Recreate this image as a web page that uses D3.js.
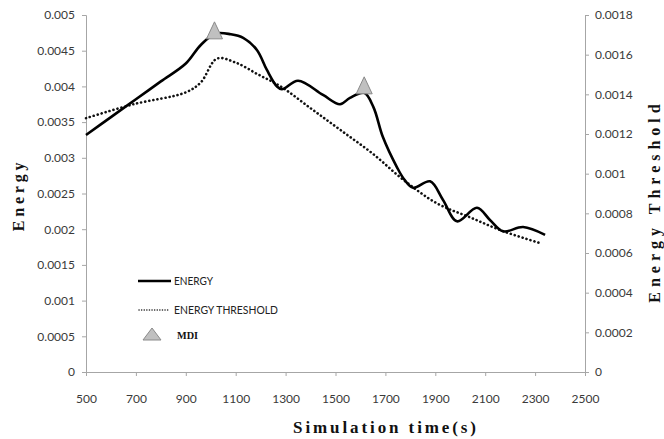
<!DOCTYPE html>
<html>
<head>
<meta charset="utf-8">
<script src="https://cdn.jsdelivr.net/npm/d3@7/dist/d3.min.js"></script>
<style>
  html, body { margin: 0; padding: 0; background: #fff; }
  svg { display: block; }
  .tick text { font-family: Lato, "Open Sans", sans-serif; font-size: 12px; fill: #3a3a3a; }
  .axis path, .axis line { stroke: #a6a6a6; stroke-width: 1; }
</style>
</head>
<body>
<svg id="chart" width="664" height="439"></svg>
<script>
// Simulation time (s) for the energy curve
const energyTime = [500, 600, 700, 800, 900, 960, 1020, 1080, 1130, 1185, 1225, 1265, 1285, 1350, 1450, 1518, 1558, 1615, 1652, 1690, 1746, 1775, 1811, 1879, 1931, 1987, 2067, 2119, 2172, 2252, 2340];
// Energy (left axis)
const energyValue = [0.00332, 0.00357, 0.00382, 0.00407, 0.00432, 0.00458, 0.00474, 0.00473, 0.00468, 0.00451, 0.00423, 0.00400, 0.00396, 0.00408, 0.00388, 0.00375, 0.00384, 0.00391, 0.00371, 0.00329, 0.00287, 0.00270, 0.00258, 0.00267, 0.00241, 0.00211, 0.00230, 0.00213, 0.00197, 0.00203, 0.00192];

// Simulation time (s) for the threshold curve
const thresholdTime = [500, 690, 900, 960, 1025, 1100, 1190, 1280, 1400, 1520, 1650, 1771, 1907, 2039, 2172, 2320];
// Energy threshold (right axis)
const thresholdValue = [0.00128, 0.00135, 0.00141, 0.00146, 0.00158, 0.00156, 0.00150, 0.00144, 0.00133, 0.00122, 0.00110, 0.00097, 0.00085, 0.00078, 0.00071, 0.00065];

// MDI detections on the energy curve
const mdiTime = [1015, 1615];
const mdiEnergy = [0.00475, 0.00398];

// Axis ticks
const xTicks = [500, 700, 900, 1100, 1300, 1500, 1700, 1900, 2100, 2300, 2500];
const leftTicks = [0, 0.0005, 0.001, 0.0015, 0.002, 0.0025, 0.003, 0.0035, 0.004, 0.0045, 0.005];
const rightTicks = [0, 0.0002, 0.0004, 0.0006, 0.0008, 0.001, 0.0012, 0.0014, 0.0016, 0.0018];

const svg = d3.select("#chart");
const plot = { left: 86, right: 585, top: 15, bottom: 372 };

const x = d3.scaleLinear().domain([500, 2500]).range([plot.left, plot.right]);
const yL = d3.scaleLinear().domain([0, 0.005]).range([plot.bottom, plot.top]);
const yR = d3.scaleLinear().domain([0, 0.0018]).range([plot.bottom, plot.top]);

const fmt = d => d === 0 ? "0" : String(+d.toFixed(4));

// Axes
svg.append("g").attr("class", "axis")
  .attr("transform", `translate(0,${plot.bottom})`)
  .call(d3.axisBottom(x).tickValues(xTicks).tickFormat(d3.format("d")).tickSizeOuter(0).tickSize(4).tickPadding(18));

svg.append("g").attr("class", "axis")
  .attr("transform", `translate(${plot.left},0)`)
  .call(d3.axisLeft(yL).tickValues(leftTicks).tickFormat(fmt).tickSizeOuter(0).tickSize(4).tickPadding(7));

svg.append("g").attr("class", "axis")
  .attr("transform", `translate(${plot.right},0)`)
  .call(d3.axisRight(yR).tickValues(rightTicks).tickFormat(fmt).tickSizeOuter(0).tickSize(4).tickPadding(6));

// Curves
const energyLine = d3.line()
  .x((d, i) => x(energyTime[i]))
  .y(d => yL(d))
  .curve(d3.curveCatmullRom.alpha(0.5));

const thresholdLine = d3.line()
  .x((d, i) => x(thresholdTime[i]))
  .y(d => yR(d))
  .curve(d3.curveCatmullRom.alpha(0.5));

svg.append("path")
  .attr("d", thresholdLine(thresholdValue))
  .attr("fill", "none")
  .attr("stroke", "#111")
  .attr("stroke-width", 2.6)
  .attr("stroke-linecap", "round")
  .attr("stroke-dasharray", "0.1 4");

svg.append("path")
  .attr("d", energyLine(energyValue))
  .attr("fill", "none")
  .attr("stroke", "#000")
  .attr("stroke-width", 2.6)
  .attr("stroke-linejoin", "round");

// MDI markers
const triangle = "M0,-11L8,6L-8,6Z";
svg.selectAll(".mdi").data(mdiTime).join("path")
  .attr("class", "mdi")
  .attr("d", triangle)
  .attr("transform", (d, i) => `translate(${x(d)},${yL(mdiEnergy[i])})`)
  .attr("fill", "#c0c0c0")
  .attr("stroke", "#8a8a8a")
  .attr("stroke-width", 1);

// Legend
const legend = svg.append("g").attr("transform", "translate(138,0)");
legend.append("line").attr("x1", 0).attr("x2", 33).attr("y1", 281).attr("y2", 281)
  .attr("stroke", "#000").attr("stroke-width", 2.4);
legend.append("text").attr("x", 36).attr("y", 281).attr("dy", "0.36em")
  .attr("font-family", "Lato, sans-serif").attr("font-size", 12).attr("fill", "#222")
  .attr("textLength", 39).attr("lengthAdjust", "spacingAndGlyphs").text("ENERGY");
legend.append("line").attr("x1", 1).attr("x2", 32).attr("y1", 310).attr("y2", 310)
  .attr("stroke", "#222").attr("stroke-width", 1.5).attr("stroke-linecap", "round").attr("stroke-dasharray", "0.1 2.5");
legend.append("text").attr("x", 36).attr("y", 310).attr("dy", "0.36em")
  .attr("font-family", "Lato, sans-serif").attr("font-size", 12).attr("fill", "#222")
  .attr("textLength", 104).attr("lengthAdjust", "spacingAndGlyphs").text("ENERGY THRESHOLD");
legend.append("path").attr("d", "M0,-7L9,5L-9,5Z").attr("transform", "translate(14,335)")
  .attr("fill", "#c0c0c0").attr("stroke", "#8a8a8a").attr("stroke-width", 1);
legend.append("text").attr("x", 39).attr("y", 335).attr("dy", "0.36em")
  .attr("font-family", "'Liberation Serif', 'DejaVu Serif', serif").attr("font-weight", "bold")
  .attr("font-size", 11).attr("fill", "#111")
  .attr("textLength", 21).attr("lengthAdjust", "spacingAndGlyphs").text("MDI");

// Axis titles
svg.append("text")
  .attr("transform", `translate(24,195) rotate(-90)`)
  .attr("text-anchor", "middle")
  .attr("font-family", "'Liberation Serif', 'DejaVu Serif', serif")
  .attr("font-weight", "bold").attr("font-size", 16).attr("letter-spacing", 3.8)
  .attr("fill", "#111").text("Energy");

svg.append("text")
  .attr("transform", `translate(660,201) rotate(-90)`)
  .attr("text-anchor", "middle")
  .attr("font-family", "'Liberation Serif', 'DejaVu Serif', serif")
  .attr("font-weight", "bold").attr("font-size", 16).attr("letter-spacing", 5)
  .attr("fill", "#111").text("Energy Threshold");

svg.append("text")
  .attr("x", 386).attr("y", 433)
  .attr("text-anchor", "middle")
  .attr("font-family", "'Liberation Serif', 'DejaVu Serif', serif")
  .attr("font-weight", "bold").attr("font-size", 17).attr("letter-spacing", 2.9)
  .attr("fill", "#111").text("Simulation time(s)");
</script>
</body>
</html>
